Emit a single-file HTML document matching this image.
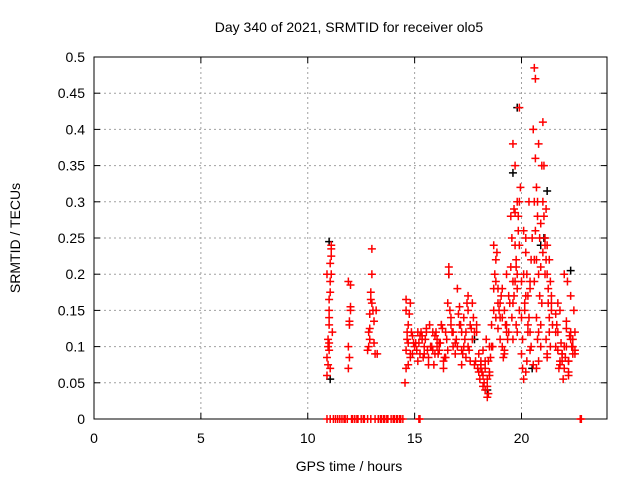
<!DOCTYPE html>
<html><head><meta charset="utf-8"><style>
body{margin:0;background:#fff;}
svg{display:block;font-family:"Liberation Sans",sans-serif;}
</style></head><body>
<svg id="chart" width="640" height="480" xmlns="http://www.w3.org/2000/svg">
<text x="349" y="32" font-size="14" text-anchor="middle">Day 340 of 2021, SRMTID for receiver olo5</text>
<text x="349" y="471" font-size="14" text-anchor="middle">GPS time / hours</text>
<text x="20" y="238" font-size="14" text-anchor="middle" transform="rotate(-90 20 238)">SRMTID / TECUs</text>
<g id="grid"></g><g id="axes"></g><g id="black"></g><g id="red"></g>
</svg>
<script>
const xTicks=[0,5,10,15,20];
const yTicks=[0,0.05,0.1,0.15,0.2,0.25,0.3,0.35,0.4,0.45,0.5];
const yTickLabels=["0","0.05","0.1","0.15","0.2","0.25","0.3","0.35","0.4","0.45","0.5"];
const redT=[10.9,10.9,10.95,11,11,11,11.05,11.05,11.1,11.1,11.1,11,10.95,11.05,11.15,
11.9,11.9,11.95,12,11.9,12,11.95,
12.8,12.85,12.9,12.95,13,13,13.05,13.1,13.2,13.25,12.85,12.9,
14.55,14.6,14.6,14.65,14.7,14.75,14.8,14.85,14.9,14.95,15,14.6,14.7,14.8,
15.1,15.2,15.3,15.4,15.5,15.6,15.7,15.8,15.9,16,16.1,16.2,16.3,16.4,16.5,16.6,16.6,16.7,16.8,16.9,15.15,15.35,15.55,15.75,15.95,16.15,16.35,16.55,16.75,16.95,15.25,15.45,15.65,15.85,16.05,16.25,16.45,16.65,
17,17.1,17.2,17.3,17.4,17.5,17.6,17.7,17.8,17.9,17.05,17.25,17.45,17.65,17.85,17.15,17.35,17.55,17.75,17.95,17.2,17.5,17.8,
18,18.1,18.2,18.3,18.4,18.5,18.05,18.15,18.25,18.35,18.45,18.55,18.1,18.3,18.5,18.2,18.4,
18.6,18.7,18.8,18.9,19,19.1,19.2,19.3,19.4,18.65,18.75,18.85,18.95,19.05,19.15,19.25,19.35,19.45,18.7,18.9,19.1,19.3,18.8,19,19.2,
19.5,19.55,19.6,19.65,19.7,19.75,19.8,19.85,19.9,19.95,19.6,19.7,19.8,19.9,19.55,19.65,19.75,19.85,19.7,19.8,19.9,19.6,19.75,
20,20.05,20.1,20.15,20.2,20.25,20.3,20.35,20.4,20.45,20.05,20.15,20.25,20.35,20.45,20.1,20.2,20.3,20.4,20.0,20.2,20.4,
20.55,20.6,20.65,20.65,20.7,20.75,20.8,20.85,20.9,20.95,20.6,20.7,20.8,20.9,20.55,20.65,20.75,20.85,20.95,20.6,20.7,20.8,20.9,20.75,
21,21.05,21.1,21.15,21.2,21.25,21.3,21.35,21.4,21.45,21.05,21.15,21.25,21.35,21.1,21.2,21.3,21.4,21.0,21.2,21.15,
21.6,21.7,21.8,21.9,22,22.1,22.2,22.3,22.4,22.5,21.65,21.75,21.85,21.95,22.05,22.15,22.25,22.35,22.45,21.7,21.9,22.1,22.3,22.5,21.8,22.0,22.2,22.4,21.6,22.2,
10.95,11.0,11.05,11.1,10.9,11.0,11.95,12.0,12.9,12.95,13.0,13.1,13.15,
14.6,14.65,14.7,14.8,14.9,15.05,15.15,15.25,15.35,15.45,15.55,15.65,15.75,15.85,15.95,16.05,16.15,16.25,16.35,16.45,16.55,16.7,16.8,16.9,
17.0,17.1,17.2,17.3,17.4,17.5,17.6,17.7,17.9,18.0,18.1,18.2,18.3,18.4,18.45,18.5,18.6,18.7,18.8,18.9,19.0,19.1,19.2,19.3,19.4,
19.5,19.6,19.7,19.8,19.9,20.0,20.1,20.2,20.3,20.4,20.5,20.6,20.7,20.8,20.9,21.0,21.1,21.2,21.3,21.4,21.6,21.7,21.8,21.9,22.0,22.1,22.2,22.3,22.4,22.5,
10.9,11.05,11.2,11.4,11.6,11.75,11.85,12.05,12.2,12.35,12.5,12.65,12.8,12.95,13.15,13.3,13.45,13.6,13.75,13.9,14.05,14.2,14.35,14.45,15.2,15.25,22.75,22.8,
11.3,11.5,11.7,12.1,12.3,12.6,13.4,13.7,14.0,14.3,14.15,13.55];
const redV=[0.06,0.085,0.11,0.13,0.15,0.165,0.19,0.215,0.235,0.225,0.2,0.14,0.1,0.07,0.12,
0.07,0.1,0.13,0.155,0.19,0.185,0.085,
0.095,0.12,0.145,0.165,0.2,0.235,0.15,0.135,0.15,0.09,0.1,0.11,
0.05,0.07,0.095,0.11,0.13,0.145,0.16,0.12,0.09,0.105,0.1,0.165,0.075,0.085,
0.095,0.105,0.12,0.085,0.11,0.095,0.13,0.1,0.075,0.12,0.09,0.105,0.125,0.085,0.11,0.21,0.2,0.14,0.1,0.09,0.08,0.115,0.125,0.1,0.09,0.105,0.07,0.16,0.12,0.11,0.115,0.09,0.075,0.12,0.1,0.13,0.085,0.15,
0.18,0.155,0.12,0.1,0.085,0.17,0.13,0.11,0.075,0.12,0.145,0.09,0.16,0.125,0.08,0.13,0.11,0.095,0.14,0.07,0.075,0.15,0.12,
0.09,0.07,0.06,0.08,0.045,0.1,0.055,0.065,0.05,0.11,0.035,0.085,0.075,0.04,0.06,0.095,0.03,
0.13,0.24,0.19,0.16,0.11,0.14,0.09,0.2,0.12,0.1,0.2,0.23,0.15,0.17,0.085,0.13,0.11,0.16,0.15,0.18,0.1,0.12,0.22,0.14,0.095,
0.28,0.25,0.38,0.29,0.35,0.22,0.3,0.28,0.43,0.32,0.16,0.19,0.12,0.24,0.14,0.17,0.21,0.26,0.285,0.2,0.15,0.11,0.13,
0.09,0.07,0.055,0.15,0.25,0.2,0.12,0.3,0.18,0.1,0.11,0.16,0.08,0.14,0.22,0.26,0.065,0.13,0.095,0.19,0.17,0.12,
0.4,0.485,0.47,0.36,0.32,0.28,0.38,0.25,0.21,0.16,0.22,0.14,0.12,0.1,0.075,0.26,0.3,0.17,0.35,0.19,0.07,0.08,0.13,0.11,
0.41,0.35,0.24,0.29,0.2,0.16,0.12,0.19,0.15,0.13,0.28,0.22,0.18,0.1,0.25,0.09,0.14,0.17,0.3,0.085,0.11,
0.12,0.095,0.15,0.08,0.1,0.135,0.065,0.11,0.09,0.12,0.13,0.07,0.105,0.055,0.085,0.19,0.115,0.1,0.15,0.16,0.09,0.125,0.17,0.095,0.075,0.2,0.08,0.11,0.145,0.06,
0.075,0.095,0.175,0.24,0.2,0.105,0.135,0.15,0.125,0.175,0.16,0.105,0.09,
0.15,0.12,0.105,0.09,0.115,0.105,0.12,0.09,0.11,0.1,0.12,0.085,0.1,0.095,0.115,0.11,0.095,0.13,0.08,0.12,0.095,0.13,0.12,0.105,
0.1,0.13,0.095,0.14,0.12,0.1,0.08,0.16,0.13,0.065,0.08,0.045,0.07,0.055,0.08,0.065,0.1,0.18,0.14,0.125,0.16,0.18,0.15,0.13,0.17,
0.21,0.19,0.24,0.18,0.3,0.14,0.2,0.23,0.17,0.19,0.25,0.3,0.22,0.2,0.27,0.23,0.2,0.24,0.22,0.16,0.1,0.12,0.08,0.09,0.07,0.1,0.08,0.12,0.1,0.09,
0,0,0,0,0,0,0,0,0,0,0,0,0,0,0,0,0,0,0,0,0,0,0,0,0,0,0,0,
0,0,0,0,0,0,0,0,0,0,0,0];
const blackT=[11,11.05,17.8,18.4,19.8,20.5,21.2,20.9,22.3,16.6,19.6,21.05];
const blackV=[0.245,0.055,0.11,0.04,0.43,0.07,0.315,0.24,0.205,0.2,0.34,0.25];
const X0=94,X1=607,Y0=419,Y1=57;
const sx=t=>X0+(X1-X0)*t/24;
const sy=v=>Y0-(Y0-Y1)*v/0.5;
const NS="http://www.w3.org/2000/svg";
function mk(tag,attrs,parent){const e=document.createElementNS(NS,tag);for(const k in attrs)e.setAttribute(k,attrs[k]);parent.appendChild(e);return e;}
const grid=document.getElementById('grid'),axes=document.getElementById('axes');
xTicks.forEach(t=>{const x=sx(t);
 if(t>0){const g=mk('line',{x1:x,x2:x,y1:Y0,y2:Y1,stroke:'#a0a0a0','stroke-dasharray':'2,3'},grid);
 
 }
 mk('line',{x1:x,x2:x,y1:Y0,y2:Y0-6,stroke:'#000'},axes);
 mk('line',{x1:x,x2:x,y1:Y1,y2:Y1+6,stroke:'#000'},axes);
 const l=mk('text',{x:x,y:Y0+24,'font-size':14,'text-anchor':'middle'},axes);l.textContent=t;
 
 
});
yTicks.forEach((v,i)=>{const y=sy(v);
 if(i>0&&i<yTicks.length-1){const g=mk('line',{x1:X0,x2:X1,y1:y,y2:y,stroke:'#a0a0a0','stroke-dasharray':'2,3'},grid);
 
 }
 mk('line',{x1:X0,x2:X0+6,y1:y,y2:y,stroke:'#000'},axes);
 mk('line',{x1:X1,x2:X1-6,y1:y,y2:y,stroke:'#000'},axes);
 const l=mk('text',{x:X0-9,y:y+5,'font-size':14,'text-anchor':'end'},axes);l.textContent=yTickLabels[i];
 
 
});
const fr=mk('rect',{x:X0,y:Y1,width:X1-X0,height:Y0-Y1,fill:'none',stroke:'#000'},axes);


function plus(T,V,col,g,name){T.forEach((t,i)=>{const x=sx(t),y=sy(V[i]);
 const p=mk('path',{d:`M${x-4},${y}H${x+4}M${x},${y-4}V${y+4}`,stroke:col,'stroke-width':1.5,fill:'none'},g);
 
 });}
plus(blackT,blackV,'#000',document.getElementById('black'),'black-point');
plus(redT,redV,'#f00',document.getElementById('red'),'red-point');
</script>
</body></html>
